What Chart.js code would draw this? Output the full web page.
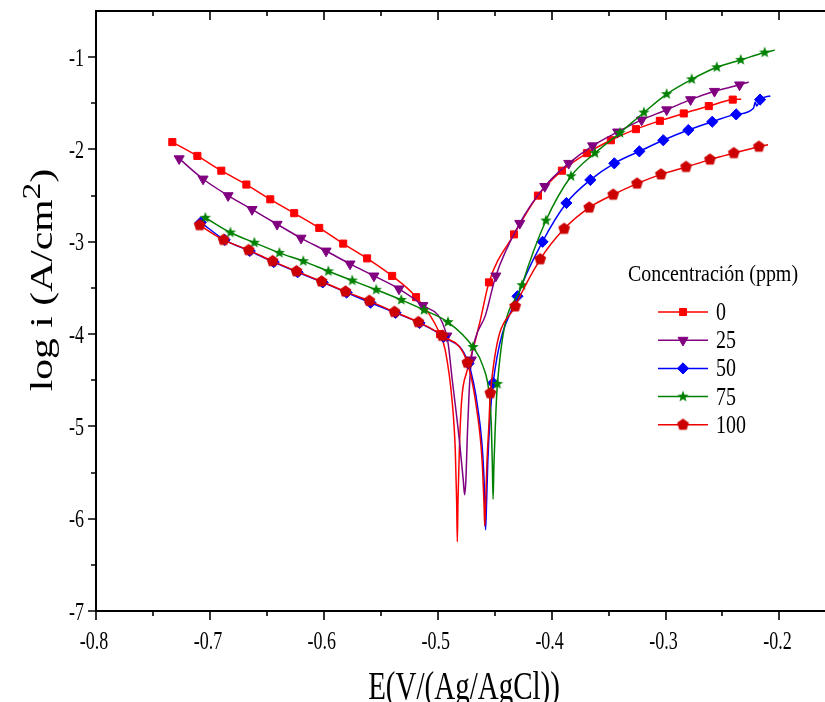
<!DOCTYPE html>
<html>
<head>
<meta charset="utf-8">
<title>Curvas de polarización</title>
<script src="https://cdn.jsdelivr.net/npm/chart.js@4.4.0/dist/chart.umd.min.js"></script>
<style>
  html, body { margin: 0; padding: 0; background: #fff; }
  #wrap { position: relative; width: 825px; height: 702px; }
</style>
</head>
<body>
<div id="wrap"><canvas id="tafelChart" width="825" height="702"></canvas></div>
<script>
// Concentración de inhibidor (ppm)
const concentrations = ['0', '25', '50', '75', '100'];

// Ejes
const xTickValues = [-0.8, -0.7, -0.6, -0.5, -0.4, -0.3, -0.2];
const xMinorValues = [-0.75, -0.65, -0.55, -0.45, -0.35, -0.25];
const yTickValues = [-7, -6, -5, -4, -3, -2, -1];
const yMinorValues = [-6.5, -5.5, -4.5, -3.5, -2.5, -1.5];

// 0 ppm: puntos con marcador (E en V, log i)
const e0 = [-0.733, -0.711, -0.690, -0.668, -0.647, -0.626, -0.604, -0.583, -0.562, -0.540, -0.519, -0.498,
            -0.455, -0.433, -0.412, -0.391, -0.369, -0.348, -0.326, -0.305, -0.284, -0.262, -0.241];
const logI0 = [-1.92, -2.07, -2.23, -2.38, -2.54, -2.69, -2.85, -3.02, -3.18, -3.37, -3.60, -4.00,
               -3.44, -2.92, -2.50, -2.23, -2.04, -1.90, -1.78, -1.69, -1.61, -1.53, -1.46];
// 0 ppm: tramo de la curva sin marcador (zona de Ecorr y final)
const e0Curve = [-0.4933, -0.4874, -0.4846, -0.4834, -0.4828, -0.4822, -0.4810, -0.4790, -0.4743, -0.4685, -0.4626, -0.2336];
const logI0Curve = [-4.18, -4.72, -5.25, -5.80, -6.25, -5.80, -5.25, -4.72, -4.40, -4.14, -3.85, -1.455];

// 25 ppm
const e25 = [-0.727, -0.706, -0.684, -0.663, -0.641, -0.620, -0.598, -0.577, -0.556, -0.534, -0.513, -0.492,
             -0.4705, -0.449, -0.428, -0.406, -0.385, -0.364, -0.342, -0.321, -0.299, -0.278, -0.257, -0.235];
const logI25 = [-2.10, -2.32, -2.50, -2.65, -2.81, -2.96, -3.10, -3.24, -3.37, -3.51, -3.69, -4.02,
                -4.28, -3.37, -2.80, -2.40, -2.15, -1.96, -1.81, -1.68, -1.57, -1.46, -1.37, -1.30];
const e25Curve = [-0.4872, -0.4810, -0.4775, -0.4764, -0.4753, -0.4740, -0.4725, -0.4670, -0.4582, -0.227];
const logI25Curve = [-4.50, -5.15, -5.59, -5.74, -5.59, -5.10, -4.65, -4.05, -3.80, -1.27];

// 50 ppm
const e50 = [-0.708, -0.687, -0.665, -0.644, -0.623, -0.601, -0.580, -0.559, -0.537, -0.516, -0.495, -0.473,
             -0.4514, -0.430, -0.408, -0.387, -0.366, -0.345, -0.323, -0.302, -0.280, -0.259, -0.238, -0.217];
const logI50 = [-2.79, -2.98, -3.10, -3.22, -3.33, -3.44, -3.55, -3.66, -3.77, -3.88, -4.03, -4.32,
                -4.53, -3.59, -3.00, -2.58, -2.33, -2.15, -2.02, -1.90, -1.79, -1.70, -1.62, -1.46];
const e50Curve = [-0.4646, -0.4602, -0.4584, -0.4580, -0.4573, -0.4560, -0.4542, -0.2228, -0.2212, -0.2200, -0.208];
const logI50Curve = [-4.82, -5.36, -5.91, -6.12, -5.90, -5.37, -4.94, -1.553, -1.485, -1.53, -1.42];

// 75 ppm
const e75 = [-0.704, -0.682, -0.661, -0.639, -0.618, -0.596, -0.575, -0.554, -0.532, -0.512, -0.491, -0.469,
             -0.4476, -0.426, -0.405, -0.383, -0.362, -0.340, -0.319, -0.299, -0.277, -0.255, -0.234, -0.213];
const logI75 = [-2.74, -2.90, -3.01, -3.12, -3.21, -3.32, -3.42, -3.52, -3.63, -3.74, -3.87, -4.14,
                -4.54, -3.47, -2.77, -2.29, -2.04, -1.82, -1.60, -1.40, -1.24, -1.11, -1.03, -0.95];
const e75Curve = [-0.4602, -0.4549, -0.4529, -0.4520, -0.4514, -0.4507, -0.4496, -0.204];
const logI75Curve = [-4.35, -4.64, -5.00, -5.44, -5.79, -5.44, -5.05, -0.924];

// 100 ppm
const e100 = [-0.709, -0.688, -0.666, -0.645, -0.624, -0.602, -0.581, -0.560, -0.538, -0.517, -0.496, -0.474,
              -0.4538, -0.432, -0.410, -0.389, -0.367, -0.346, -0.325, -0.304, -0.282, -0.261, -0.240, -0.218];
const logI100 = [-2.82, -2.98, -3.09, -3.21, -3.32, -3.43, -3.54, -3.64, -3.76, -3.87, -4.02, -4.31,
                 -4.64, -3.70, -3.19, -2.86, -2.63, -2.49, -2.37, -2.27, -2.19, -2.11, -2.04, -1.97];
const e100Curve = [-0.4657, -0.4611, -0.4593, -0.4587, -0.4580, -0.4567, -0.4551, -0.210];
const logI100Curve = [-4.82, -5.36, -5.86, -6.08, -5.86, -5.37, -4.99, -1.95];

const FONT = "'Liberation Serif', 'Times New Roman', serif";

// marcadores que Chart.js no trae: estrella y pentágono
function polygonImage(color, r, n, inner) {
  const c = document.createElement('canvas');
  const s = Math.ceil(r * 2) + 2;
  c.width = c.height = s;
  const g = c.getContext('2d');
  g.fillStyle = color;
  g.beginPath();
  const steps = inner ? n * 2 : n;
  for (let k = 0; k < steps; k++) {
    const rad = inner && k % 2 ? r * inner : r;
    const a = -Math.PI / 2 + k * 2 * Math.PI / steps;
    g.lineTo(s / 2 + rad * Math.cos(a), s / 2 + rad * Math.sin(a));
  }
  g.closePath();
  g.fill();
  return c;
}

const styles = [
  { line: '#ff0000', mark: '#ff0000', pointStyle: 'rect', radius: 5, rotation: 0 },
  { line: '#800080', mark: '#800080', pointStyle: 'triangle', radius: 5.8, rotation: 180 },
  { line: '#0000ff', mark: '#0000ff', pointStyle: 'rectRot', radius: 5.6, rotation: 0 },
  { line: '#008000', mark: '#008000', pointStyle: polygonImage('#008000', 6, 5, 0.42), radius: 5, rotation: 0 },
  { line: '#ee0000', mark: '#cc0000', pointStyle: polygonImage('#cc0000', 6.2, 5, 0), radius: 5, rotation: 0 }
];

function buildPoints(eMk, iMk, eLn, iLn) {
  const pts = eMk.map((x, k) => ({ x, y: iMk[k], mark: true }))
    .concat(eLn.map((x, k) => ({ x, y: iLn[k], mark: false })));
  return pts.sort((a, b) => a.x - b.x);
}

const series = [
  buildPoints(e0, logI0, e0Curve, logI0Curve),
  buildPoints(e25, logI25, e25Curve, logI25Curve),
  buildPoints(e50, logI50, e50Curve, logI50Curve),
  buildPoints(e75, logI75, e75Curve, logI75Curve),
  buildPoints(e100, logI100, e100Curve, logI100Curve)
];

const datasets = series.map((data, k) => {
  const st = styles[k];
  return {
    label: concentrations[k],
    data,
    order: series.length - k,
    borderColor: st.line,
    borderWidth: 1.5,
    backgroundColor: st.mark,
    pointBackgroundColor: st.mark,
    pointBorderColor: st.mark,
    pointBorderWidth: 1,
    pointStyle: st.pointStyle,
    pointRotation: st.rotation,
    pointRadius: c => (c.raw && c.raw.mark ? st.radius : 0),
    cubicInterpolationMode: 'monotone',
    fill: false
  };
});

// texto con escala propia en x / y (tipografía estrecha y alta)
function drawText(ctx, text, x, y, size, sx, sy, align) {
  ctx.save();
  ctx.translate(x, y);
  ctx.scale(sx, sy);
  ctx.font = size + 'px ' + FONT;
  ctx.textAlign = align;
  ctx.textBaseline = 'alphabetic';
  ctx.fillText(text, 0, 0);
  ctx.restore();
}

// marco del gráfico, marcas mayores y menores y etiquetas de los ejes
const axisFrame = {
  id: 'axisFrame',
  afterDraw(chart) {
    const { ctx, chartArea: a, scales: { x, y } } = chart;
    ctx.save();
    ctx.strokeStyle = '#000';
    ctx.lineWidth = 2;
    ctx.beginPath();
    ctx.moveTo(a.right + 2, a.top); ctx.lineTo(a.left, a.top);
    ctx.lineTo(a.left, a.bottom); ctx.lineTo(a.right + 2, a.bottom);
    ctx.stroke();
    ctx.lineWidth = 1.6;
    ctx.beginPath();
    const xt = (v, len) => {
      const px = Math.round(x.getPixelForValue(v));
      ctx.moveTo(px, a.bottom); ctx.lineTo(px, a.bottom + len);
      ctx.moveTo(px, a.top); ctx.lineTo(px, a.top + len);
    };
    const yt = (v, len) => {
      const py = Math.round(y.getPixelForValue(v));
      ctx.moveTo(a.left, py); ctx.lineTo(a.left - len, py);
    };
    xTickValues.forEach(v => xt(v, 9));
    xMinorValues.forEach(v => xt(v, 5));
    yTickValues.forEach(v => yt(v, 8));
    yMinorValues.forEach(v => yt(v, 5));
    ctx.stroke();

    ctx.fillStyle = '#000';
    xTickValues.forEach(v => {
      drawText(ctx, v.toFixed(1), x.getPixelForValue(v) - 2, a.bottom + 38, 20, 0.9, 1.3, 'center');
    });
    yTickValues.forEach(v => {
      drawText(ctx, String(v), a.left - 12, y.getPixelForValue(v) + 8.5, 20, 0.9, 1.3, 'right');
    });

    // títulos (el "2" va como superíndice)
    drawText(ctx, 'E(V/(Ag/AgCl))', 464, 699, 29, 1.0, 1.35, 'center');

    const main = 'log i (A/cm';
    ctx.font = '32px ' + FONT;
    const w1 = ctx.measureText(main).width;
    const w3 = ctx.measureText(')').width;
    ctx.font = '26px ' + FONT;
    const w2 = ctx.measureText('2').width;
    const total = w1 + w2 + w3;
    ctx.translate(52, 280);
    ctx.rotate(-Math.PI / 2);
    ctx.scale(1.3, 1.0);
    ctx.textAlign = 'left';
    ctx.textBaseline = 'alphabetic';
    let cx = -total / 2;
    ctx.font = '32px ' + FONT;
    ctx.fillText(main, cx, 0);
    cx += w1;
    ctx.font = '26px ' + FONT;
    ctx.fillText('2', cx, -12);
    cx += w2;
    ctx.font = '32px ' + FONT;
    ctx.fillText(')', cx, 0);
    ctx.restore();
  }
};

// leyenda dentro del área de trazado
const legendBox = {
  id: 'legendBox',
  afterDraw(chart) {
    const ctx = chart.ctx;
    ctx.save();
    ctx.fillStyle = '#000';
    drawText(ctx, 'Concentración (ppm)', 713, 281, 21, 0.95, 1.1, 'center');
    chart.data.datasets.forEach((ds, k) => {
      const st = styles[k];
      const yy = 312 + k * 28.2;
      ctx.strokeStyle = st.line;
      ctx.lineWidth = 1.5;
      ctx.beginPath();
      ctx.moveTo(658, yy); ctx.lineTo(708, yy);
      ctx.stroke();
      ctx.fillStyle = st.mark;
      ctx.strokeStyle = st.mark;
      ctx.lineWidth = 1;
      Chart.helpers.drawPoint(ctx, { pointStyle: st.pointStyle, rotation: st.rotation, radius: st.radius, borderWidth: 1 }, 683, yy);
      ctx.fillStyle = '#000';
      drawText(ctx, ds.label, 716, yy + 8, 21, 0.95, 1.15, 'left');
    });
    ctx.restore();
  }
};

const chart = new Chart(document.getElementById('tafelChart').getContext('2d'), {
  type: 'line',
  data: { datasets },
  options: {
    responsive: false,
    animation: false,
    events: [],
    layout: { autoPadding: false, padding: { top: 11, right: 0, left: 0, bottom: 0 } },
    plugins: { legend: { display: false }, tooltip: { enabled: false } },
    scales: {
      x: {
        type: 'linear',
        min: -0.8,
        max: -0.16,
        afterBuildTicks: s => { s.ticks = xTickValues.map(v => ({ value: v })); },
        afterFit: s => { s.height = 91; s.paddingLeft = 0; s.paddingRight = 0; },
        grid: { display: false, drawTicks: false },
        border: { display: false },
        ticks: { display: false }
      },
      y: {
        type: 'linear',
        min: -7,
        max: -0.5,
        afterBuildTicks: s => { s.ticks = yTickValues.map(v => ({ value: v })); },
        afterFit: s => { s.width = 96; s.paddingTop = 0; s.paddingBottom = 0; },
        grid: { display: false, drawTicks: false },
        border: { display: false },
        ticks: { display: false }
      }
    }
  },
  plugins: [axisFrame, legendBox]
});
</script>
</body>
</html>
